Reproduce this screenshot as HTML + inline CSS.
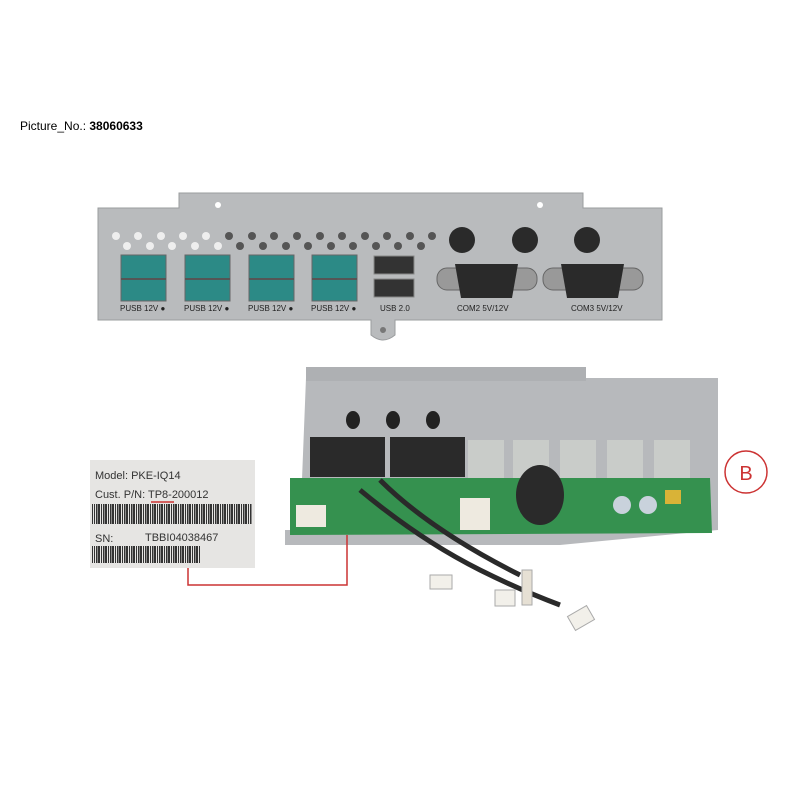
<!DOCTYPE html>
<html><head><style>
body{margin:0;background:#fff;}
svg{display:block;font-family:"Liberation Sans",sans-serif;}
</style></head><body>
<svg width="800" height="800" viewBox="0 0 800 800" xmlns="http://www.w3.org/2000/svg">
<defs>
<pattern id="bc" width="7" height="20" patternUnits="userSpaceOnUse">
<rect x="0" y="0" width="2" height="20" fill="#333"/><rect x="3" y="0" width="1" height="20" fill="#333"/><rect x="5" y="0" width="1.5" height="20" fill="#333"/>
</pattern>
</defs>
<rect width="800" height="800" fill="#fff"/>
<text x="20" y="130" font-size="12" fill="#000">Picture_No.: <tspan font-weight="bold">38060633</tspan></text>

<path d="M179 193 L583 193 L583 208 L662 208 L662 320 L395 320 L395 335 Q383 345 371 335 L371 320 L98 320 L98 208 L179 208 Z" fill="#b9bbbd" stroke="#9a9c9e"/>
<circle cx="218" cy="205" r="3" fill="#fff"/>
<circle cx="540" cy="205" r="3" fill="#fff"/>
<circle cx="383" cy="330" r="3" fill="#777"/>
<g fill="#eee">
<circle cx="116" cy="236" r="4"/><circle cx="138" cy="236" r="4"/><circle cx="161" cy="236" r="4"/><circle cx="183" cy="236" r="4"/><circle cx="206" cy="236" r="4"/>
<circle cx="127" cy="246" r="4"/><circle cx="150" cy="246" r="4"/><circle cx="172" cy="246" r="4"/><circle cx="195" cy="246" r="4"/><circle cx="218" cy="246" r="4"/>
</g>
<g fill="#555">
<circle cx="229" cy="236" r="4"/><circle cx="252" cy="236" r="4"/><circle cx="274" cy="236" r="4"/><circle cx="297" cy="236" r="4"/><circle cx="320" cy="236" r="4"/><circle cx="342" cy="236" r="4"/><circle cx="365" cy="236" r="4"/><circle cx="387" cy="236" r="4"/><circle cx="410" cy="236" r="4"/><circle cx="432" cy="236" r="4"/>
<circle cx="240" cy="246" r="4"/><circle cx="263" cy="246" r="4"/><circle cx="286" cy="246" r="4"/><circle cx="308" cy="246" r="4"/><circle cx="331" cy="246" r="4"/><circle cx="353" cy="246" r="4"/><circle cx="376" cy="246" r="4"/><circle cx="398" cy="246" r="4"/><circle cx="421" cy="246" r="4"/>
</g>
<g fill="#2a2a2a"><circle cx="462" cy="240" r="13"/><circle cx="525" cy="240" r="13"/><circle cx="587" cy="240" r="13"/></g>
<g>
<rect x="121" y="255" width="45" height="46" fill="#2c8a86" stroke="#666"/>
<rect x="185" y="255" width="45" height="46" fill="#2c8a86" stroke="#666"/>
<rect x="249" y="255" width="45" height="46" fill="#2c8a86" stroke="#666"/>
<rect x="312" y="255" width="45" height="46" fill="#2c8a86" stroke="#666"/>
</g>
<g stroke="#555" stroke-width="2"><line x1="121" y1="279" x2="166" y2="279"/><line x1="185" y1="279" x2="230" y2="279"/><line x1="249" y1="279" x2="294" y2="279"/><line x1="312" y1="279" x2="357" y2="279"/></g>
<rect x="374" y="256" width="40" height="18" fill="#333" stroke="#888"/>
<rect x="374" y="279" width="40" height="18" fill="#333" stroke="#888"/>
<rect x="437" y="268" width="100" height="22" rx="10" fill="#999" stroke="#666"/>
<path d="M455 264 h63 l-6 34 h-51 z" fill="#2a2a2a"/>
<rect x="543" y="268" width="100" height="22" rx="10" fill="#999" stroke="#666"/>
<path d="M561 264 h63 l-6 34 h-51 z" fill="#2a2a2a"/>
<g font-size="8" fill="#222">
<text x="120" y="311">PUSB 12V ●</text><text x="184" y="311">PUSB 12V ●</text><text x="248" y="311">PUSB 12V ●</text><text x="311" y="311">PUSB 12V ●</text>
<text x="380" y="311">USB 2.0</text><text x="457" y="311">COM2  5V/12V</text><text x="571" y="311">COM3  5V/12V</text>
</g>

<path d="M306 378 L718 378 L718 530 L560 545 L285 545 L285 530 L300 530 Z" fill="#b7b9bc"/>
<rect x="306" y="367" width="280" height="14" fill="#aeb0b3"/>
<g fill="#222"><ellipse cx="353" cy="420" rx="7" ry="9"/><ellipse cx="393" cy="420" rx="7" ry="9"/><ellipse cx="433" cy="420" rx="7" ry="9"/></g>
<rect x="310" y="437" width="75" height="40" fill="#2a2a2a"/>
<rect x="390" y="437" width="75" height="40" fill="#2a2a2a"/>
<rect x="468" y="440" width="36" height="40" fill="#c9ccc9"/>
<rect x="513" y="440" width="36" height="40" fill="#c9ccc9"/>
<rect x="560" y="440" width="36" height="40" fill="#c9ccc9"/>
<rect x="607" y="440" width="36" height="40" fill="#c9ccc9"/>
<rect x="654" y="440" width="36" height="40" fill="#c9ccc9"/>
<path d="M290 478 L710 478 L712 533 L290 535 Z" fill="#35914f"/>
<ellipse cx="540" cy="495" rx="24" ry="30" fill="#2a2a2a"/>
<circle cx="622" cy="505" r="9" fill="#c9d2dc"/><circle cx="648" cy="505" r="9" fill="#c9d2dc"/>
<rect x="665" y="490" width="16" height="14" fill="#d9b337"/>
<rect x="460" y="498" width="30" height="32" fill="#eeeae0"/>
<rect x="296" y="505" width="30" height="22" fill="#eeeae0"/>
<g fill="none" stroke="#2a2a2a" stroke-width="5"><path d="M360 490 Q420 540 480 570 Q520 590 560 605"/><path d="M380 480 Q430 530 520 575"/></g>
<rect x="430" y="575" width="22" height="14" fill="#f2f0ea" stroke="#aaa"/>
<rect x="495" y="590" width="20" height="16" fill="#f2f0ea" stroke="#aaa"/>
<rect x="522" y="570" width="10" height="35" fill="#e6e0d4" stroke="#aaa"/>
<rect x="570" y="610" width="22" height="16" fill="#f2f0ea" stroke="#aaa" transform="rotate(-30 581 618)"/>

<rect x="90" y="460" width="165" height="108" fill="#e6e5e3"/>
<g font-size="11" fill="#333">
<text x="95" y="479">Model: PKE-IQ14</text>
<text x="95" y="498">Cust. P/N:  TP8-200012</text>
<text x="95" y="542">SN:</text><text x="145" y="541">TBBI04038467</text>
</g>
<line x1="151" y1="502" x2="174" y2="502" stroke="#c33" stroke-width="1.5"/>
<rect x="92" y="504" width="160" height="20" fill="url(#bc)"/>
<rect x="92" y="546" width="108" height="17" fill="url(#bc)"/>
<path d="M188 568 V585 H347 V535" fill="none" stroke="#c33" stroke-width="1.5"/>
<circle cx="746" cy="472" r="21" fill="none" stroke="#c33" stroke-width="1.5"/>
<text x="746" y="480" font-size="20" fill="#c33" text-anchor="middle">B</text>
</svg>
</body></html>
